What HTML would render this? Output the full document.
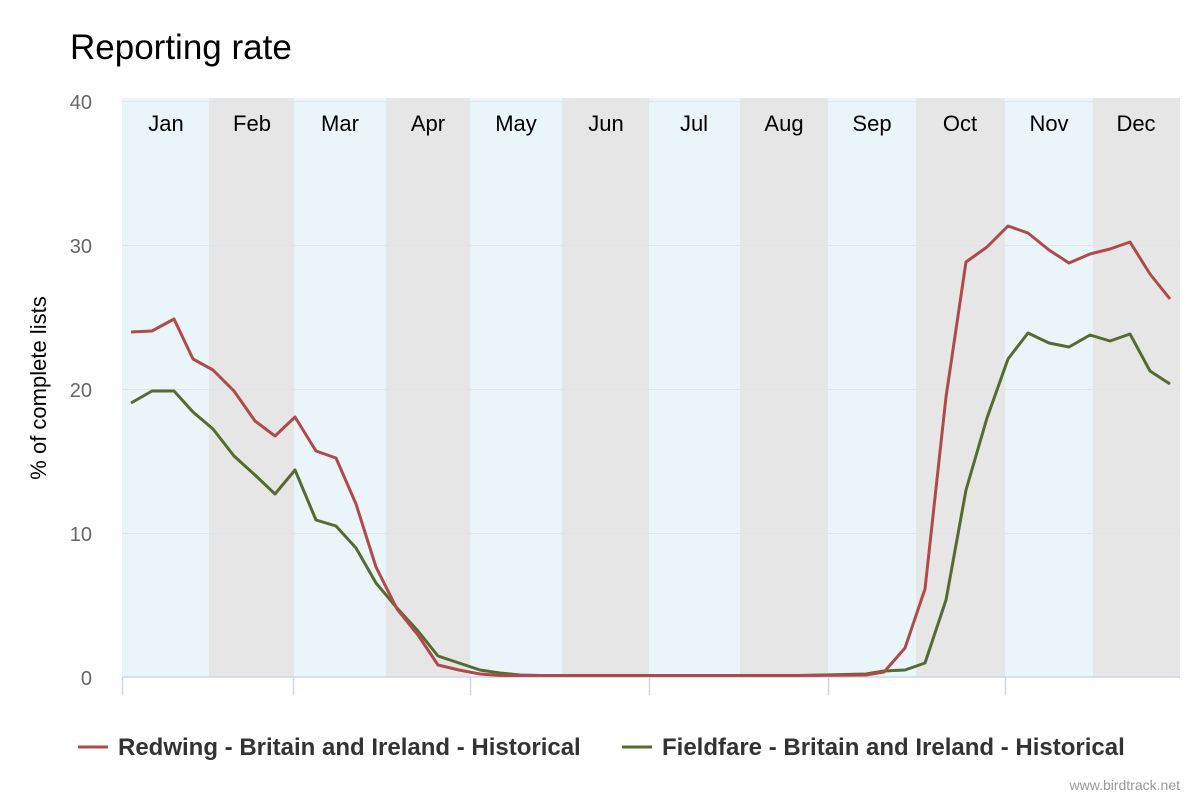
<!DOCTYPE html>
<html><head><meta charset="utf-8"><style>
body{margin:0;background:#fff;font-family:"Liberation Sans",Arial,sans-serif}
</style></head><body>
<svg width="1200" height="800" xmlns="http://www.w3.org/2000/svg" font-family="Liberation Sans, Arial, sans-serif">
<rect width="1200" height="800" fill="#fff"/>
<text x="70" y="59" font-size="35" fill="#000">Reporting rate</text>
<g>
<rect x="122" y="98" width="87" height="579" fill="#eaf5f9"/>
<rect x="209" y="98" width="85" height="579" fill="#e6e6e6"/>
<rect x="294" y="98" width="92" height="579" fill="#eaf5f9"/>
<rect x="386" y="98" width="84" height="579" fill="#e6e6e6"/>
<rect x="470" y="98" width="92" height="579" fill="#eaf5f9"/>
<rect x="562" y="98" width="87" height="579" fill="#e6e6e6"/>
<rect x="649" y="98" width="91" height="579" fill="#eaf5f9"/>
<rect x="740" y="98" width="88" height="579" fill="#e6e6e6"/>
<rect x="828" y="98" width="88" height="579" fill="#eaf5f9"/>
<rect x="916" y="98" width="89" height="579" fill="#e6e6e6"/>
<rect x="1005" y="98" width="88" height="579" fill="#eaf5f9"/>
<rect x="1093" y="98" width="87" height="579" fill="#e6e6e6"/>
</g>
<g stroke="#dfe3ea" stroke-width="1">
<line x1="122" x2="1180" y1="101.5" y2="101.5"/>
<line x1="122" x2="1180" y1="245.5" y2="245.5"/>
<line x1="122" x2="1180" y1="389.5" y2="389.5"/>
<line x1="122" x2="1180" y1="533.5" y2="533.5"/>
</g>
<g stroke="#ccd6eb" stroke-width="1.5">
<line x1="122" x2="1180" y1="677" y2="677"/>
<line x1="122.5" x2="122.5" y1="677" y2="695"/>
<line x1="293.5" x2="293.5" y1="677" y2="695"/>
<line x1="470.5" x2="470.5" y1="677" y2="695"/>
<line x1="649.5" x2="649.5" y1="677" y2="695"/>
<line x1="828.5" x2="828.5" y1="677" y2="695"/>
<line x1="1005.5" x2="1005.5" y1="677" y2="695"/>
</g>
<g font-size="22" fill="#000" text-anchor="middle">
<text x="166" y="131">Jan</text><text x="252" y="131">Feb</text><text x="340" y="131">Mar</text>
<text x="428" y="131">Apr</text><text x="516" y="131">May</text><text x="606" y="131">Jun</text>
<text x="694" y="131">Jul</text><text x="784" y="131">Aug</text><text x="872" y="131">Sep</text>
<text x="960" y="131">Oct</text><text x="1049" y="131">Nov</text><text x="1136" y="131">Dec</text>
</g>
<g font-size="20" fill="#666" text-anchor="end">
<text x="92" y="109">40</text><text x="92" y="253">30</text><text x="92" y="397">20</text>
<text x="92" y="541">10</text><text x="92" y="685">0</text>
</g>
<text transform="translate(46,388) rotate(-90)" font-size="22" fill="#000" text-anchor="middle">% of complete lists</text>
<polyline fill="none" stroke="#556b2f" stroke-width="3" stroke-linejoin="round" points="131,403 152,391 174,391 193,412 213,429 234,456 255,475 275,494 295,470 316,520 336,526 356,548 376,583 397,608 418,631 438,656 459,663 480,670 500,673 520,675 540,675.5 600,675.5 700,675.5 800,675.5 866,674 884,671 905,670 925,663 946,600 966,490 987,418 1008,359 1028,333 1049,343 1069,347 1090,335 1110,341 1130,334 1150,371 1170,384"/>
<polyline fill="none" stroke="#b04a4a" stroke-width="3" stroke-linejoin="round" points="131,332 152,331 174,319 193,359 213,370 234,391 255,421 275,436 295,417 316,451 336,458 356,504 376,567 397,609 418,635 438,665 459,670 480,674 500,675.5 600,675.5 700,675.5 800,675.5 866,675 884,672 905,648 925,589 946,397 966,262 987,247 1008,226 1028,233 1049,250 1069,263 1090,254 1110,249 1130,242 1150,274 1170,299"/>
<line x1="78" x2="108" y1="747" y2="747" stroke="#b04a4a" stroke-width="3"/>
<text x="118" y="755" font-size="24" font-weight="bold" fill="#333">Redwing - Britain and Ireland - Historical</text>
<line x1="622" x2="652" y1="747" y2="747" stroke="#556b2f" stroke-width="3"/>
<text x="662" y="755" font-size="24" font-weight="bold" fill="#333">Fieldfare - Britain and Ireland - Historical</text>
<text x="1180" y="790" font-size="14" fill="#999" text-anchor="end">www.birdtrack.net</text>
</svg>
</body></html>
